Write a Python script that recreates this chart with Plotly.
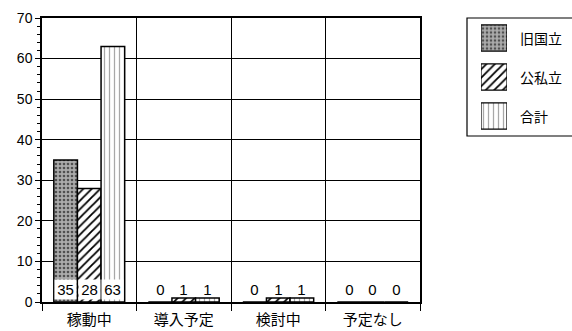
import plotly.graph_objects as go

# Survey results: number of institutions by system status
categories = ["稼動中", "導入予定", "検討中", "予定なし"]
series_names = ["旧国立", "公私立", "合計"]
kokuritsu = [35, 0, 0, 0]
koshiritsu = [28, 1, 1, 0]
total = [63, 1, 1, 0]
y_ticks = [0, 10, 20, 30, 40, 50, 60, 70]

series_values = [kokuritsu, koshiritsu, total]

FONT = "Liberation Sans, Arial, Noto Sans CJK JP, sans-serif"
JFONT = "Noto Sans CJK JP, sans-serif"

patterns = [
    dict(shape=".", bgcolor="#ababab", fgcolor="#505050", size=4, solidity=0.35, fillmode="replace"),
    dict(shape="/", bgcolor="white", fgcolor="black", size=6, solidity=0.3, fillmode="replace"),
    dict(shape="|", bgcolor="white", fgcolor="#a8a8a8", size=5, solidity=0.25, fillmode="replace"),
]

BARGAP = 0.25
bar_w = (1 - BARGAP) / 3

fig = go.Figure()
for name, vals, pat in zip(series_names, series_values, patterns):
    fig.add_trace(go.Bar(
        x=categories, y=vals, name=name, showlegend=False,
        marker=dict(color=pat["bgcolor"], pattern=pat,
                    line=dict(color="black", width=1.5)),
        xaxis="x", yaxis="y",
    ))

# value labels near the base of each bar
annotations = []
for s, vals in enumerate(series_values):
    for i, v in enumerate(vals):
        tall = v > 6
        annotations.append(dict(
            x=i + (s - 1) * bar_w, y=3.0, xref="x", yref="y",
            text=str(v), showarrow=False,
            font=dict(family=FONT, size=15, color="black"),
            bgcolor="white" if tall else "rgba(0,0,0,0)",
            width=21, height=19, borderpad=0,
        ))

# legend swatches drawn as bars on a small helper axis
for k, (name, pat) in enumerate(zip(series_names, patterns)):
    fig.add_trace(go.Bar(
        x=[1], y=[k], orientation="h", width=0.67, showlegend=False,
        marker=dict(color=pat["bgcolor"], pattern=pat,
                    line=dict(color="black", width=1.2)),
        xaxis="x2", yaxis="y2", hoverinfo="skip",
    ))
    annotations.append(dict(
        x=0.899, y=k, xref="paper", yref="y2", xanchor="left",
        text=name, showarrow=False,
        font=dict(family=JFONT, size=14, color="black"),
    ))

W_PLOT = 530.0
main_right = 378 / W_PLOT

fig.update_layout(
    width=572, height=331,
    margin=dict(l=42, r=0, t=18, b=29),
    paper_bgcolor="white", plot_bgcolor="white",
    barmode="group", bargap=BARGAP, bargroupgap=0,
    font=dict(family=FONT, color="black"),
    xaxis=dict(
        domain=[0, main_right], type="category",
        tickson="boundaries", ticks="outside", ticklen=7, tickcolor="black",
        showgrid=True, gridcolor="black", gridwidth=1,
        showline=True, linecolor="black", linewidth=1.5, mirror=True,
        ticklabelstandoff=3,
        tickfont=dict(family=JFONT, size=15, color="black"),
    ),
    yaxis=dict(
        range=[0, 70], tickvals=y_ticks,
        ticks="outside", ticklen=5, tickcolor="black",
        minor=dict(dtick=2, ticks="outside", ticklen=3, tickcolor="black", showgrid=False),
        showgrid=True, gridcolor="black", gridwidth=1,
        showline=True, linecolor="black", linewidth=1.5, mirror=True,
        zeroline=False,
        tickfont=dict(family=FONT, size=14, color="black"),
    ),
    xaxis2=dict(domain=[(481 - 42) / W_PLOT, (507 - 42) / W_PLOT], range=[0, 1],
                visible=False, anchor="y2", fixedrange=True),
    yaxis2=dict(domain=[(302 - 135.5) / 284, (302 - 18.5) / 284], range=[2.5, -0.5],
                visible=False, anchor="x2", fixedrange=True),
    annotations=annotations,
    shapes=[dict(type="rect", xref="paper", yref="paper",
                 x0=(467 - 42) / W_PLOT, x1=1.02,
                 y0=(302 - 136) / 284, y1=1.0,
                 line=dict(color="black", width=1.2), fillcolor="rgba(0,0,0,0)",
                 layer="below")],
)

fig.write_html("out.html")
